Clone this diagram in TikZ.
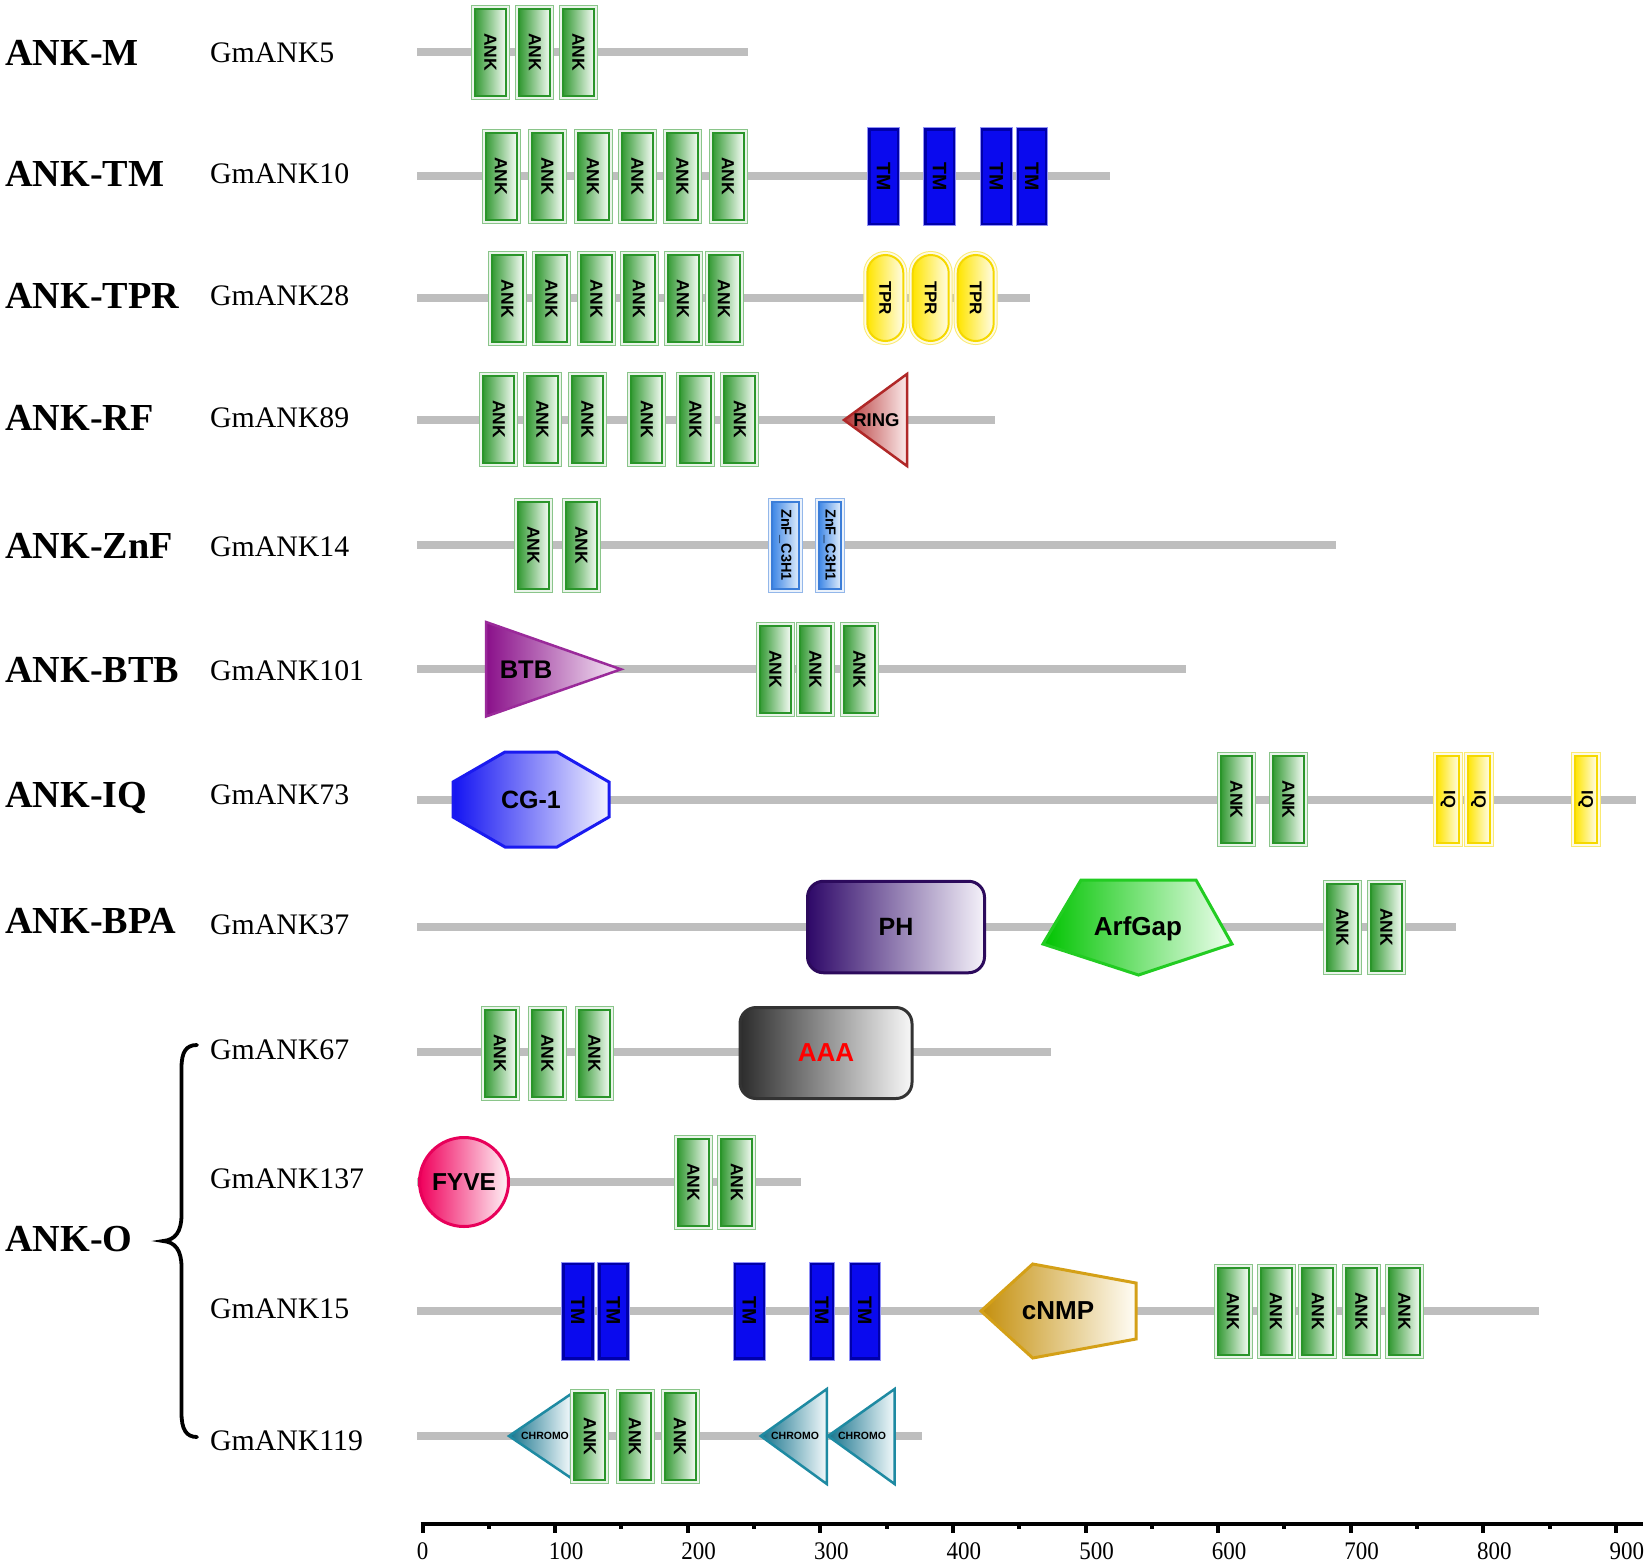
\documentclass[tikz,border=0pt]{standalone}
\usepackage{fontspec}
\setmainfont{Liberation Serif}
\setsansfont{Liberation Sans}
\usepackage{graphicx}
\definecolor{bbgray}{HTML}{BEBEBE}
\definecolor{ankD}{HTML}{2A952A}
\definecolor{ankL}{HTML}{349A34}
\definecolor{ankR}{HTML}{F4FBF4}
\definecolor{tmB}{HTML}{0A0AEE}
\definecolor{tmD}{HTML}{0000AA}
\definecolor{yelD}{HTML}{F5D800}
\definecolor{yelL}{HTML}{FFE500}
\definecolor{yelR}{HTML}{FFFCE6}
\definecolor{ringD}{HTML}{B02828}
\definecolor{ringL}{HTML}{B43434}
\definecolor{ringR}{HTML}{FBEAEA}
\definecolor{znfD}{HTML}{3B7DD8}
\definecolor{znfL}{HTML}{3D86E6}
\definecolor{znfR}{HTML}{E2EEFB}
\definecolor{btbD}{HTML}{9A2A9A}
\definecolor{btbL}{HTML}{8A108A}
\definecolor{btbR}{HTML}{F6EAF6}
\definecolor{cgD}{HTML}{1A1AF0}
\definecolor{cgL}{HTML}{1414F2}
\definecolor{cgR}{HTML}{F2F2FF}
\definecolor{phD}{HTML}{2C0A5C}
\definecolor{phL}{HTML}{2E0868}
\definecolor{phR}{HTML}{F5F2FA}
\definecolor{arfD}{HTML}{22CC22}
\definecolor{arfL}{HTML}{00C400}
\definecolor{arfR}{HTML}{EEFFEE}
\definecolor{aaaD}{HTML}{333333}
\definecolor{aaaL}{HTML}{2C2C2C}
\definecolor{aaaR}{HTML}{F8F8F8}
\definecolor{fyD}{HTML}{E8005A}
\definecolor{fyL}{HTML}{F0005C}
\definecolor{fyR}{HTML}{FFF2F6}
\definecolor{cnD}{HTML}{D4A017}
\definecolor{cnL}{HTML}{C48F0C}
\definecolor{cnR}{HTML}{FFFDF6}
\definecolor{chD}{HTML}{1E8AA2}
\definecolor{chL}{HTML}{16738C}
\definecolor{chR}{HTML}{F2F9FB}
\newcommand\dfont[1]{\fontsize{#1}{#1}\selectfont\sffamily\bfseries}
\newcommand\vt[1]{\rotatebox{-90}{#1}}
\tikzset{
 backbone/.style={draw=bbgray, line width=8},
 dom/.style={inner sep=0, outer sep=0},
 bev/.style n args={3}{left color=#1, right color=#2, draw=#3, line width=2,
   preaction={draw=#3!55, line width=8}, preaction={draw=#3!10, line width=6}},
 poly/.style n args={3}{left color=#1, right color=#2, draw=#3, line width=2.5, line join=miter},
 ankbox/.style={dom, rectangle, minimum width=31, minimum height=87, bev={ankL}{ankR}{ankD}, font=\dfont{17.5}},
 iqbox/.style={dom, rectangle, minimum width=22, minimum height=87, bev={yelL}{yelR}{yelD}, font=\dfont{16.5}},
 znfbox/.style={dom, rectangle, minimum height=87, bev={znfL}{znfR}{znfD}, font=\dfont{14.5}},
 tprbox/.style={dom, rectangle, rounded corners=18, minimum width=36, minimum height=86, bev={yelL}{yelR}{yelD}, font=\dfont{17}},
 tmbox/.style={dom, rectangle, minimum height=94.5, fill=tmB, draw=tmD, line width=2.5,
   preaction={draw=tmB!45, line width=4.5}, font=\dfont{19.5}},
 phbox/.style={dom, rectangle, rounded corners=16, minimum width=177, minimum height=91.5, poly={phL}{phR}{phD}, line width=3, font=\dfont{25}},
 aaabox/.style={dom, rectangle, rounded corners=16, minimum width=172, minimum height=91, poly={aaaL}{aaaR}{aaaD}, line width=3, font=\dfont{26}, text=red},
 fyvebox/.style={dom, circle, minimum size=89, poly={fyL}{fyR}{fyD}, line width=3, font=\dfont{24.5}},
 dtext/.style={dom, font=\dfont{#1}},
 grp/.style={anchor=base west, inner sep=0, font=\fontsize{38.2}{38}\selectfont\bfseries},
 gene/.style={anchor=base west, inner sep=0, font=\fontsize{29.8}{30}\selectfont},
 axisln/.style={draw=black, line width=4},
 ticklab/.style={inner sep=0, font=\fontsize{23}{23}\selectfont},
}
\newcommand\ankdom[3]{\node[ankbox] (#1) at (#2,#3) {\vt{ANK}};}
\newcommand\tmdom[4]{\node[tmbox, minimum width=#4] (#1) at (#2,#3) {\vt{TM}};}
\newcommand\iqdom[3]{\node[iqbox] (#1) at (#2,#3) {\vt{IQ}};}
\newcommand\tprdom[3]{\node[tprbox] (#1) at (#2,#3) {\vt{TPR}};}
\newcommand\znfdom[4]{\node[znfbox, minimum width=#4] (#1) at (#2,#3) {\vt{ZnF\_C3H1}};}
\newcommand\bb[3]{\coordinate (#1s) at (417,#3); \coordinate (#1e) at (#2,#3); \draw[backbone] (#1s) -- (#1e);}
\newcommand\ticklabel[3]{\node[ticklab] (#1) at (#2,1551) {\scalebox{1}[1.1]{#3}};}
\begin{document}
\begin{tikzpicture}[x=1pt,y=-1pt]
\useasboundingbox (0,0) rectangle (1650,1566);

% ---------- left labels ----------
\node[grp] (gM) at (5,65) {ANK-M};
\node[grp] (gTM) at (5,186) {ANK-TM};
\node[grp] (gTPR) at (5,308) {ANK-TPR};
\node[grp] (gRF) at (5,430) {ANK-RF};
\node[grp] (gZnF) at (5,558.4) {ANK-ZnF};
\node[grp] (gBTB) at (5,682.4) {ANK-BTB};
\node[grp] (gIQ) at (5,807) {ANK-IQ};
\node[grp] (gBPA) at (5,933) {ANK-BPA};
\node[grp] (gO) at (5,1251.5) {ANK-O};

\node[gene] (n5) at (210,62.5) {GmANK5};
\node[gene] (n10) at (210,183.5) {GmANK10};
\node[gene] (n28) at (210,305.5) {GmANK28};
\node[gene] (n89) at (210,427.5) {GmANK89};
\node[gene] (n14) at (210,556) {GmANK14};
\node[gene] (n101) at (210,680) {GmANK101};
\node[gene] (n73) at (210,804.5) {GmANK73};
\node[gene] (n37) at (210,934) {GmANK37};
\node[gene] (n67) at (210,1059) {GmANK67};
\node[gene] (n137) at (210,1188.5) {GmANK137};
\node[gene] (n15) at (210,1318.5) {GmANK15};
\node[gene] (n119) at (210,1450) {GmANK119};

% brace
\draw[line width=3.8, line cap=round] (197,1045) .. controls (186,1045) and (181.5,1052) .. (181.5,1068)
  -- (181.5,1215) .. controls (181.5,1232) and (175,1240) .. (163,1241)
  .. controls (175,1242) and (181.5,1250) .. (181.5,1267)
  -- (181.5,1413) .. controls (181.5,1429) and (186,1437) .. (197,1437);

% ---------- row 1 ----------
\bb{b1}{748}{52}
\ankdom{r1a}{490.5}{52}\ankdom{r1b}{534.8}{52}\ankdom{r1c}{578.5}{52}

% ---------- row 2 ----------
\bb{b2}{1110}{176}
\ankdom{r2a}{501}{176.3}\ankdom{r2b}{547.5}{176.3}\ankdom{r2c}{593}{176.3}
\ankdom{r2d}{637.5}{176.3}\ankdom{r2e}{682.5}{176.3}\ankdom{r2f}{728}{176.3}
\tmdom{r2t1}{883.5}{176.5}{28.5}\tmdom{r2t2}{939.5}{176.5}{28.5}
\tmdom{r2t3}{996.3}{176.5}{29}\tmdom{r2t4}{1031.8}{176.5}{28}

% ---------- row 3 ----------
\bb{b3}{1030}{298}
\ankdom{r3a}{507.5}{298.9}\ankdom{r3b}{551.5}{298.9}\ankdom{r3c}{596.5}{298.9}
\ankdom{r3d}{639}{298.9}\ankdom{r3e}{683}{298.9}\ankdom{r3f}{724}{298.9}
\tprdom{r3p1}{885.3}{298}\tprdom{r3p2}{930.7}{298}\tprdom{r3p3}{975.7}{298}

% ---------- row 4 ----------
\bb{b4}{995}{420}
\ankdom{r4a}{498.8}{419.3}\ankdom{r4b}{542.5}{419.3}\ankdom{r4c}{587.5}{419.3}
\ankdom{r4d}{646.8}{419.3}\ankdom{r4e}{695.5}{419.3}\ankdom{r4f}{739.8}{419.3}
\path[poly={ringL}{ringR}{ringD}] (844,420) -- (907,374) -- (907,466) -- cycle;
\node[dtext=18.5] (ring) at (876.5,420) {RING};

% ---------- row 5 ----------
\bb{b5}{1336}{545}
\ankdom{r5a}{533.5}{545}\ankdom{r5b}{581.5}{545}
\znfdom{r5z1}{785.5}{545}{27}\znfdom{r5z2}{829.8}{545}{22.5}

% ---------- row 6 ----------
\bb{b6}{1186}{669}
\path[poly={btbL}{btbR}{btbD}] (486,622) -- (621,669.3) -- (486,716.5) -- cycle;
\node[dtext=25.5] (btb) at (526,669.3) {BTB};
\ankdom{r6a}{775.3}{669.3}\ankdom{r6b}{815.5}{669.3}\ankdom{r6c}{859.3}{669.3}

% ---------- row 7 ----------
\bb{b7}{1636}{800}
\path[poly={cgL}{cgR}{cgD}, line width=3] (505,752) -- (557,752) -- (609,782) -- (609,817) -- (557,847) -- (505,847) -- (453,817) -- (453,782) -- cycle;
\node[dtext=25] (cg) at (531,800) {CG-1};
\ankdom{r7a}{1236.5}{799.5}\ankdom{r7b}{1288.3}{799.5}
\iqdom{r7q1}{1448}{799.5}\iqdom{r7q2}{1478.5}{799.5}\iqdom{r7q3}{1585.7}{799.5}

% ---------- row 8 ----------
\bb{b8}{1456}{927}
\node[phbox] (ph) at (896,927) {PH};
\path[poly={arfL}{arfR}{arfD}, line width=3] (1081,880) -- (1196,880) -- (1232,944) -- (1138.5,975) -- (1043,944) -- cycle;
\node[dtext=26] (arf) at (1138,929) {ArfGap};
\ankdom{r8a}{1342.5}{927}\ankdom{r8b}{1386.3}{927}

% ---------- row 9 ----------
\bb{b9}{1051}{1052}
\ankdom{r9a}{500}{1053}\ankdom{r9b}{547.5}{1053}\ankdom{r9c}{594.5}{1053}
\node[aaabox] (aaa) at (826,1053) {AAA};

% ---------- row 10 ----------
\bb{b10}{801}{1182}
\node[fyvebox] (fyve) at (464,1182) {FYVE};
\ankdom{r10a}{693.3}{1182}\ankdom{r10b}{736.9}{1182}

% ---------- row 11 ----------
\bb{b11}{1539}{1311}
\tmdom{r11t1}{577.8}{1311}{29}\tmdom{r11t2}{613.3}{1311}{28}\tmdom{r11t3}{749.3}{1311}{29}
\tmdom{r11t4}{821.8}{1311}{22}\tmdom{r11t5}{864.8}{1311}{28}
\path[poly={cnL}{cnR}{cnD}, line width=3] (981,1311) -- (1032.7,1264) -- (1136,1283) -- (1136,1339) -- (1032.7,1358) -- cycle;
\node[dtext=26] (cnmp) at (1058,1311) {cNMP};
\ankdom{r11a}{1233}{1311}\ankdom{r11b}{1276}{1311}\ankdom{r11c}{1317.8}{1311}
\ankdom{r11d}{1361.5}{1311}\ankdom{r11e}{1404.5}{1311}

% ---------- row 12 ----------
\bb{b12}{922}{1436}
\path[poly={chL}{chR}{chD}] (509,1436) -- (571,1394) -- (571,1478) -- cycle;
\node[dtext=10.5] (ch1) at (545,1436) {CHROMO};
\ankdom{r12a}{589.8}{1436.5}\ankdom{r12b}{635}{1436.5}\ankdom{r12c}{680}{1436.5}
\path[poly={chL}{chR}{chD}] (760.7,1436) -- (826.8,1389) -- (826.8,1484) -- cycle;
\node[dtext=10.5] (ch2) at (795,1436) {CHROMO};
\path[poly={chL}{chR}{chD}] (828,1436) -- (894.6,1389) -- (894.6,1484) -- cycle;
\node[dtext=10.5] (ch3) at (862,1436) {CHROMO};

% ---------- axis ----------
\coordinate (axL) at (420.5,1523.5);
\coordinate (axR) at (1643,1523.5);
\draw[axisln] (axL) -- (axR);
\foreach \i in {0,...,9} { \draw[axisln] ({422.5+132.6*\i},1523.5) -- ++(0,9); }
\foreach \i in {0,...,8} { \draw[axisln] ({422.5+132.6*\i+66.3},1523.5) -- ++(0,5.5); }
\ticklabel{l0}{422.5}{0}
\ticklabel{l1}{566.1}{100}
\ticklabel{l2}{698.7}{200}
\ticklabel{l3}{831.3}{300}
\ticklabel{l4}{963.9}{400}
\ticklabel{l5}{1096.5}{500}
\ticklabel{l6}{1229.1}{600}
\ticklabel{l7}{1361.7}{700}
\ticklabel{l8}{1494.3}{800}
\ticklabel{l9}{1626.9}{900}
\end{tikzpicture}
\end{document}
